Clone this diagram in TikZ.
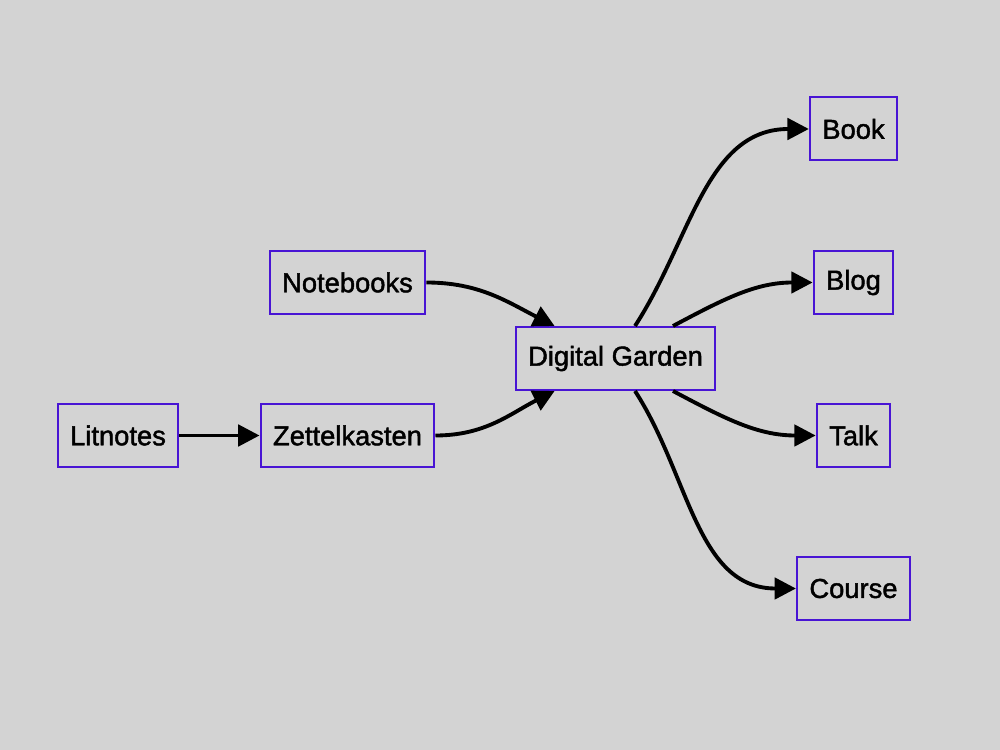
\documentclass[tikz,border=0pt]{standalone}
\usepackage{fontspec}
\setmainfont{Liberation Sans}
\newfontfamily\heavyfont{Liberation Sans}[FakeBold=1.6]
\usetikzlibrary{arrows.meta,calc}
\definecolor{bg}{RGB}{211,211,211}
\definecolor{bord}{RGB}{72,20,212}
\begin{document}
\begin{tikzpicture}[x=0.75pt,y=0.75pt,
  box/.style={draw=bord,line width=1.5pt,minimum height=47.25pt,inner xsep=9.4pt,
    font=\heavyfont\fontsize{20.5}{24}\selectfont,text=black},
  edge/.style={line width=2.9pt,-{Triangle[length=16pt,width=16pt]}}]
\fill[bg] (0,0) rectangle (1000,750);
\useasboundingbox (0,0) rectangle (1000,750);
\node[box] (lit) at (118,314.5) {Litnotes};
\node[box] (zet) at (347.5,314.5) {Zettelkasten};
\node[box] (nb) at (347.5,467.5) {Notebooks};
\node[box] (dg) at (615.5,391.5) {Digital Garden};
\node[box] (book) at (853.5,621) {Book};
\node[box] (blog) at (853.5,467.5) {Blog};
\node[box] (talk) at (853.5,314.5) {Talk};
\node[box] (course) at (853.5,161.5) {Course};
\draw[edge] (lit) -- (zet);
\draw[edge] (zet.east) to[out=0,in=207] ($(dg.south west)+(40,0)$);
\draw[edge] (nb.east) to[out=0,in=153] ($(dg.north west)+(40,0)$);
\draw[edge] ($(dg.north)+(19.5,0)$) to[out=57,in=180] (book.west);
\draw[edge] ($(dg.north)+(57.5,0)$) to[out=28,in=180] (blog.west);
\draw[edge] ($(dg.south)+(57.5,0)$) to[out=-28,in=180] (talk.west);
\draw[edge] ($(dg.south)+(19.5,0)$) to[out=-57,in=180] (course.west);
\end{tikzpicture}
\end{document}
